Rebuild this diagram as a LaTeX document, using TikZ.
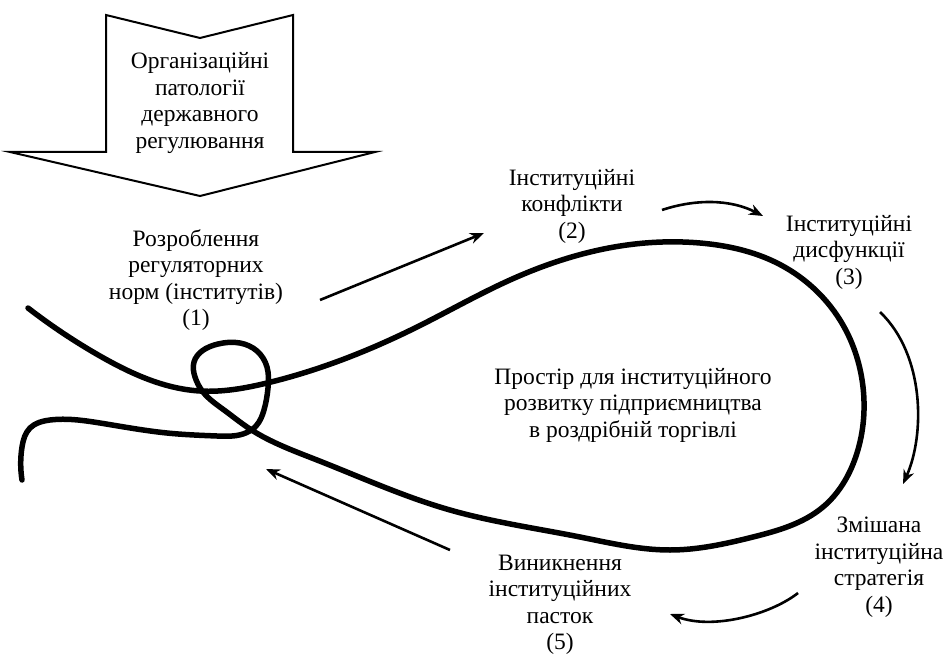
\documentclass[tikz,border=0pt]{standalone}
\usepackage{fontspec}
\setmainfont{Liberation Serif}
\usetikzlibrary{arrows.meta,hobby}
\begin{document}
\begin{tikzpicture}[x=1pt,y=-1pt,
  lbl/.style={align=center,font=\fontsize{23.5}{26.5}\selectfont,inner sep=0pt},
  flow/.style={line width=2.6pt,-{Stealth[length=14pt,width=11pt,inset=4.5pt]}},
  rope/.style={line width=5.5pt,line cap=round,line join=round}]
\useasboundingbox (0,0) rectangle (947,655);
% big block arrow
\draw[line width=2pt,line join=miter] (106,15) -- (200,38) -- (293,15) -- (293,152) -- (375,152) -- (200,196) -- (10,152) -- (106,152) -- cycle;
\node[lbl] (patol) at (200,103) {Організаційні\\патології\\державного\\регулювання};
% rope
\draw[rope,use Hobby shortcut] (28,308) .. (100,356) .. (200,391) .. (267,383) .. (417,327)
 .. (510,280) .. (627,245) .. (700,243) .. (777,263) .. (840,320) .. (863,387)
 .. (857,453) .. (823,507) .. (753,537) .. (670,550) .. (580,537) .. (450,510)
 .. (317,460) .. (250,429) .. (224,410) .. (203,392) .. (195,377) .. (194,362)
 .. (202,351) .. (218,344) .. (240,343) .. (257,351) .. (267,367) .. (268,388)
 .. (264,410) .. (256,426) .. (243,434) .. (217,436) .. (167,433) .. (100,423)
 .. (50,420) .. (30,428) .. (22,447) .. (22,480);
% labels
\node[lbl] (n1) at (196,280) {Розроблення\\регуляторних\\норм (інститутів)\\(1)};
\node[lbl] (n2) at (572,206) {Інституційні\\конфлікти\\(2)};
\node[lbl] (n3) at (849,252) {Інституційні\\дисфункції\\(3)};
\node[lbl] (n4) at (879,567) {Змішана\\інституційна\\стратегія\\(4)};
\node[lbl] (n5) at (560,605) {Виникнення\\інституційних\\пасток\\(5)};
\node[lbl] (space) at (633,405) {Простір для інституційного\\розвитку підприємництва\\в роздрібній торгівлі};
% arrow ends
\coordinate (a1s) at (320,300); \coordinate (a1e) at (484,233);
\coordinate (a2s) at (662,210); \coordinate (a2e) at (763,216);
\coordinate (a3s) at (880,312); \coordinate (a3e) at (903,484);
\coordinate (a4s) at (798,593); \coordinate (a4e) at (670,614);
\coordinate (a5s) at (450,550); \coordinate (a5e) at (266,469);
\draw[flow] (a1s) -- (a1e);
\draw[flow] (a2s) .. controls (695,199) and (730,199) .. (a2e);
\draw[flow] (a3s) .. controls (925,355) and (925,435) .. (a3e);
\draw[flow] (a4s) .. controls (770,615) and (712,630) .. (a4e);
\draw[flow] (a5s) -- (a5e);
\end{tikzpicture}
\end{document}
